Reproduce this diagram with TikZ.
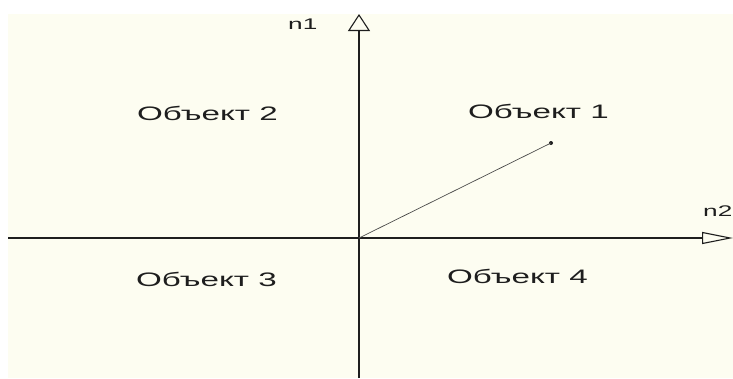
\documentclass[tikz,border=0pt]{standalone}
\usepackage{fontspec}
\usepackage{tikz}
\usetikzlibrary{arrows.meta, positioning}
\newfontfamily\widefont[FakeStretch=1.7]{Liberation Sans}
\definecolor{paper}{RGB}{253,253,241}
\definecolor{ink}{RGB}{30,30,30}

\begin{document}
\begin{tikzpicture}[
  x=1pt, y=-1pt,
  lbl/.style={font=\widefont\fontsize{19.5}{22}\selectfont, text=ink, inner sep=0pt, anchor=base west},
  axlbl/.style={font=\widefont\fontsize{15.4}{18}\selectfont, text=ink, inner sep=0pt, anchor=base west},
  axis/.style={draw=ink, line width=1.1pt},
]
  \useasboundingbox (0,0) rectangle (733,378);
  \fill[paper] (8,14) rectangle (733,378);

  \coordinate (O) at (359,238);
  \coordinate (ybot) at (359,378);
  \coordinate (ytop) at (359,14);
  \coordinate (xleft) at (8,238);
  \coordinate (xright) at (733,238);

  \draw[axis, -{Triangle[open, length=17pt, width=22pt]}] (ybot) -- (ytop);
  \draw[axis, -{Triangle[open, length=31pt, width=12pt]}] (xleft) -- (xright);

  \node[axlbl] (n1) at (288,29) {n1};
  \node[axlbl] (n2) at (703,216) {n2};

  \node[lbl] (obj1) at (468,118) {Объект 1};
  \node[lbl] (obj2) at (137,120) {Объект 2};
  \node[lbl] (obj3) at (136,286) {Объект 3};
  \node[lbl] (obj4) at (447,283) {Объект 4};

  \node[circle, fill=ink, inner sep=0pt, minimum size=4pt] (pt) at (551,143) {};
  \draw[ink!80, line width=0.7pt] (O) -- (pt.center);
\end{tikzpicture}
\end{document}
